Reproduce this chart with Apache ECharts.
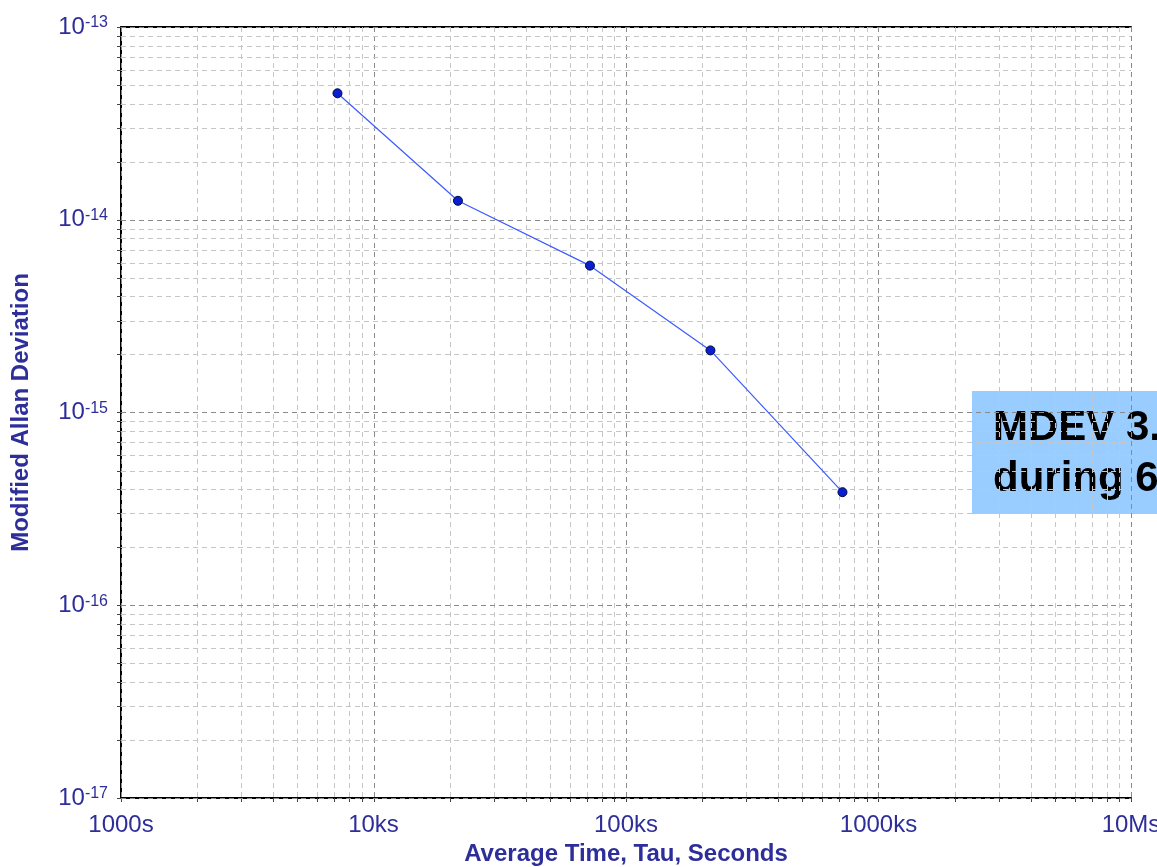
<!DOCTYPE html>
<html>
<head>
<meta charset="utf-8">
<title>Modified Allan Deviation</title>
<script src="https://cdn.jsdelivr.net/npm/echarts@6/dist/echarts.min.js"></script>
<style>
  html, body { margin: 0; padding: 0; background: #ffffff; }
  #chart { width: 1157px; height: 867px; }
</style>
</head>
<body>
<div id="chart"></div>
<script>
// Averaging times (s) and measured MDEV values
const tauSeconds = [7200, 21600, 72000, 216000, 720000];
const mdevValues = [4.53e-14, 1.254e-14, 5.78e-15, 2.10e-15, 3.86e-16];

// Decade tick values and their labels
const xTickValues = [1e3, 1e4, 1e5, 1e6, 1e7];
const xTickLabels = ['1000s', '10ks', '100ks', '1000ks', '10Ms'];
const yTickExponents = [-17, -16, -15, -14, -13];

// Annotation box text
const noteLines = ['MDEV 3.9E-16', 'during 60 days'];

const X_MIN = xTickValues[0], X_MAX = xTickValues[xTickValues.length - 1];
const Y_MIN = Math.pow(10, yTickExponents[0]);
const Y_MAX = Math.pow(10, yTickExponents[yTickExponents.length - 1]);

// 1..9 subdivisions of each decade, plus the closing decade
function gridValues(lo, hi) {
  const out = [];
  const e0 = Math.round(Math.log10(lo)), e1 = Math.round(Math.log10(hi));
  for (let e = e0; e < e1; e++) {
    for (let m = 1; m <= 9; m++) out.push({ v: m * Math.pow(10, e), major: m === 1 });
  }
  out.push({ v: Math.pow(10, e1), major: true });
  return out;
}
const xGrid = gridValues(X_MIN, X_MAX);
const yGrid = gridValues(Y_MIN, Y_MAX);
const xGridData = xGrid.map(g => [g.v, Y_MIN, g.major ? 1 : 0]);
const yGridData = yGrid.map(g => [X_MIN, g.v, g.major ? 1 : 0]);

const LABEL_BLUE = '#2e2e9a';
const MINOR_GRID = '#c6c6c6';
const MAJOR_GRID = '#8a8a8a';
const TICK = '#444444';

function isDecade(v) {
  const e = Math.log10(v);
  return Math.abs(e - Math.round(e)) < 1e-6;
}

function verticalGrid(params, api) {
  const x = api.value(0);
  const major = api.value(2) === 1;
  const top = api.coord([x, Y_MAX]);
  const bot = api.coord([x, Y_MIN]);
  const px = Math.round(bot[0]) + 0.5;
  return {
    type: 'group',
    children: [
      { type: 'line', shape: { x1: px, y1: top[1], x2: px, y2: bot[1] },
        style: { stroke: major ? MAJOR_GRID : MINOR_GRID, lineWidth: 1, lineDash: [5, 4] } },
      { type: 'line', shape: { x1: px, y1: bot[1], x2: px, y2: bot[1] + 4 },
        style: { stroke: TICK, lineWidth: 1 } }
    ]
  };
}
function horizontalGrid(params, api) {
  const y = api.value(1);
  const major = api.value(2) === 1;
  const l = api.coord([X_MIN, y]);
  const r = api.coord([X_MAX, y]);
  const py = Math.round(l[1]) + 0.5;
  return {
    type: 'group',
    children: [
      { type: 'line', shape: { x1: l[0], y1: py, x2: r[0], y2: py },
        style: { stroke: major ? MAJOR_GRID : MINOR_GRID, lineWidth: 1, lineDash: [5, 4] } },
      { type: 'line', shape: { x1: l[0] - 4, y1: py, x2: l[0], y2: py },
        style: { stroke: TICK, lineWidth: 1 } }
    ]
  };
}

const chart = echarts.init(document.getElementById('chart'), null, { renderer: 'canvas' });

chart.setOption({
  backgroundColor: '#ffffff',
  animation: false,
  grid: { left: 121, top: 27, width: 1010, height: 771, show: false, containLabel: false, outerBoundsMode: 'none' },
  xAxis: [
    {
      type: 'log', logBase: 10, min: X_MIN, max: X_MAX,
      name: 'Average Time, Tau, Seconds', nameLocation: 'middle', nameGap: 44,
      nameTextStyle: { color: LABEL_BLUE, fontFamily: 'Liberation Sans', fontWeight: 'bold', fontSize: 24 },
      axisLine: { show: true, onZero: false, lineStyle: { color: '#000', width: 2 } },
      axisTick: { show: false },
      axisLabel: {
        interval: 0, margin: 15, color: LABEL_BLUE, fontFamily: 'Liberation Sans', fontSize: 24,
        showMinLabel: true, showMaxLabel: true, hideOverlap: false,
        formatter: v => {
          if (!isDecade(v)) return '';
          const e = Math.round(Math.log10(v));
          const i = xTickValues.findIndex(t => Math.round(Math.log10(t)) === e);
          return i >= 0 ? xTickLabels[i] : '';
        }
      },
      splitLine: { show: false }
    },
    {
      type: 'log', logBase: 10, min: X_MIN, max: X_MAX, position: 'top',
      axisLine: { show: true, onZero: false, lineStyle: { color: '#000', width: 2 } },
      axisTick: { show: false }, axisLabel: { show: false }, splitLine: { show: false }
    }
  ],
  yAxis: {
    type: 'log', logBase: 10, min: Y_MIN, max: Y_MAX,
    name: 'Modified Allan Deviation', nameLocation: 'middle', nameGap: 88,
    nameTextStyle: { color: LABEL_BLUE, fontFamily: 'Liberation Sans', fontWeight: 'bold', fontSize: 24 },
    axisLine: { show: true, onZero: false, lineStyle: { color: '#000', width: 2 } },
    axisTick: { show: false },
    axisLabel: {
      interval: 0, margin: 13, color: LABEL_BLUE, fontFamily: 'Liberation Sans',
      showMinLabel: true, showMaxLabel: true, hideOverlap: false,
      formatter: v => {
        if (!isDecade(v)) return '';
        const e = Math.round(Math.log10(v));
        return yTickExponents.indexOf(e) >= 0 ? '{b|10}{s|' + e + '}' : '';
      },
      rich: {
        b: { fontSize: 24, color: LABEL_BLUE, fontFamily: 'Liberation Sans', lineHeight: 24 },
        s: { fontSize: 16, color: LABEL_BLUE, fontFamily: 'Liberation Sans', verticalAlign: 'top', lineHeight: 16 }
      }
    },
    splitLine: { show: false }
  },
  series: [
    {
      type: 'custom', name: 'grid-x', xAxisIndex: 0, silent: true, z: 1,
      renderItem: verticalGrid, data: xGridData
    },
    {
      type: 'custom', name: 'grid-y', xAxisIndex: 0, silent: true, z: 1,
      renderItem: horizontalGrid, data: yGridData
    },
    {
      type: 'line', name: 'MDEV', xAxisIndex: 0, z: 5,
      data: tauSeconds.map((t, i) => [t, mdevValues[i]]),
      symbol: 'circle', symbolSize: 9,
      lineStyle: { color: '#3a5cff', width: 1.2 },
      itemStyle: { color: '#0a20d0', borderColor: '#000840', borderWidth: 1 }
    }
  ],
  graphic: [
    {
      type: 'group', left: 972, top: 391, z: 100,
      children: [
        { type: 'rect', shape: { x: 0, y: 0, width: 260, height: 123 }, style: { fill: '#99ccff' } },
        { type: 'text', x: 21, y: 37, style: { text: noteLines[0], fill: '#000', lineWidth: 0, font: 'bold 42px "Liberation Sans"', verticalAlign: 'middle' } },
        { type: 'text', x: 21, y: 88, style: { text: noteLines[1], fill: '#000', lineWidth: 0, font: 'bold 42px "Liberation Sans"', verticalAlign: 'middle' } }
      ]
    }
  ]
});
</script>
</body>
</html>
